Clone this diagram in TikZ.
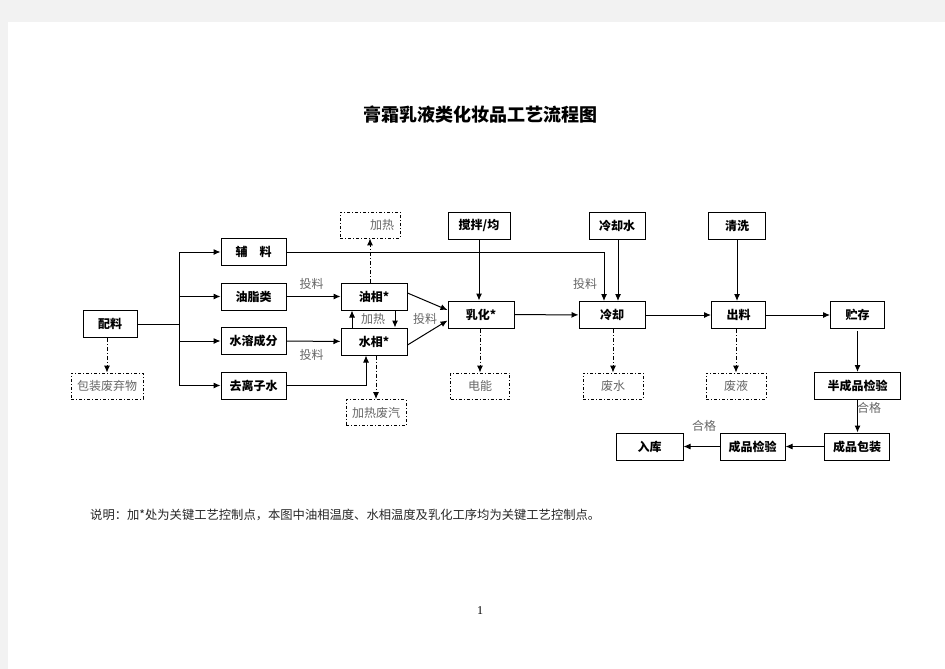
\documentclass[tikz,border=0pt]{standalone}
\usepackage{fontspec}
\setmainfont{Liberation Serif}
\newfontfamily\cjk{Noto Sans CJK SC}
\usetikzlibrary{arrows.meta}

\begin{document}
\begin{tikzpicture}[x=1pt,y=-1pt,
  box/.style={draw=black, line width=1pt, inner sep=0pt, minimum height=27pt, font=\cjk\bfseries\fontsize{12}{12}\selectfont},
  wastebox/.style={draw=black, line width=0.8pt, dash pattern=on 3pt off 2pt on 1pt off 2pt, inner sep=0pt, minimum width=60pt, minimum height=26pt, text=black!60, font=\cjk\fontsize{12}{12}\selectfont},
  lbl/.style={text=black!60, font=\cjk\fontsize{12}{12}\selectfont, inner sep=0pt},
  arr/.style={draw=black, line width=1pt, -{Latex[length=7pt,width=6pt]}},
  dasharr/.style={arr, dash pattern=on 4pt off 2pt on 1pt off 2pt}]
\fill[black!5] (0,0) rectangle (945,669);
\fill[white] (8,22) rectangle (945,669);
\useasboundingbox (0,0) rectangle (945,669);

\node[font=\cjk\bfseries\fontsize{18}{18}\selectfont] (title) at (480.5,115) {膏霜乳液类化妆品工艺流程图};

\node[box, minimum width=54pt] (peiliao) at (110,324) {配料};
\node[wastebox, minimum width=72pt] (waste) at (107,386) {包装废弃物};
\node[box, minimum width=65pt] (fuliao) at (253.5,252) {辅\hspace{1em}料};
\node[box, minimum width=65pt] (youzhi) at (253.5,296.5) {油脂类};
\node[box, minimum width=65pt] (shuirong) at (253.5,341) {水溶成分};
\node[box, minimum width=65pt] (qulizi) at (253.5,385.5) {去离子水};
\node[wastebox] (jiare) at (370,225) {\hspace{24pt}加热};
\node[box, minimum width=66pt] (youxiang) at (374,296.5) {油相*};
\node[box, minimum width=66pt] (shuixiang) at (374,341.5) {水相*};
\node[wastebox] (feiqi) at (376,412.5) {加热废汽};
\node[box, minimum width=62pt] (jiaoban) at (479,225.5) {搅拌/均};
\node[box, minimum width=66pt] (ruhua) at (481,314.5) {乳化*};
\node[wastebox, minimum width=59pt] (dianneng) at (480,386) {电能};
\node[box, minimum width=56pt] (lengqueshui) at (617,225.5) {冷却水};
\node[box, minimum width=66pt] (lengque) at (612,315) {冷却};
\node[wastebox] (feishui) at (613,386) {废水};
\node[box, minimum width=57pt] (qingxi) at (737,225.5) {清洗};
\node[box, minimum width=54pt] (chuliao) at (738.5,315) {出料};
\node[wastebox] (feiye) at (736,386) {废液};
\node[box, minimum width=54pt] (zhucun) at (857.5,315) {贮存};
\node[box, minimum width=86pt] (banchengpin) at (857.5,386) {半成品检验};
\node[box, minimum width=65pt] (baozhuang) at (857,446.5) {成品包装};
\node[box, minimum width=65pt] (jianyan) at (752.5,446.5) {成品检验};
\node[box, minimum width=67pt] (ruku) at (649.5,446.5) {入库};

\coordinate (fork) at (179,324);
\draw[black, line width=1pt] (peiliao.east) -- (fork);
\draw[arr] (fork) |- (fuliao);
\draw[arr] (fork) |- (youzhi);
\draw[arr] (fork) |- (shuirong);
\draw[arr] (fork) |- (qulizi);
\draw[dasharr] (peiliao.south -| waste.north) -- (waste.north);

\draw[arr] (youzhi) -- (youxiang);
\draw[arr] (shuirong) -- (shuixiang);
\draw[arr] (qulizi.east) -| ([xshift=-8pt]shuixiang.south);
\draw[arr] (fuliao.east) -| ([xshift=-8pt]lengque.north);
\draw[dasharr] (youxiang.north -| jiare.south) -- (jiare.south);
\draw[arr] ([xshift=-22pt]shuixiang.north) -- ([xshift=-22pt]youxiang.south);
\draw[arr] ([xshift=21pt]youxiang.south) -- ([xshift=21pt]shuixiang.north);
\draw[dasharr] (shuixiang.south -| feiqi.north) -- (feiqi.north);
\draw[arr] ([yshift=3.5pt]youxiang.east) -- ([yshift=4.5pt]ruhua.west);
\draw[arr] ([yshift=-3.5pt]shuixiang.east) -- ([yshift=-6pt]ruhua.west);

\draw[arr] (jiaoban.south) -- (jiaoban.south |- ruhua.north);
\draw[dasharr] (ruhua.south -| dianneng.north) -- (dianneng.north);
\draw[arr] (ruhua) -- (lengque);
\draw[arr] ([xshift=1pt]lengqueshui.south) -- ([xshift=1pt]lengqueshui.south |- lengque.north);
\draw[dasharr] (lengque.south -| feishui.north) -- (feishui.north);
\draw[arr] (lengque) -- (chuliao);
\draw[arr] (qingxi.south) -- (qingxi.south |- chuliao.north);
\draw[dasharr] (chuliao.south -| feiye.north) -- (feiye.north);
\draw[arr] (chuliao) -- (zhucun);
\draw[arr] ([yshift=-2pt]zhucun.south) -- (banchengpin.north);
\draw[arr] (banchengpin) -- (banchengpin |- baozhuang.north);
\draw[arr] (baozhuang) -- (jianyan);
\draw[arr] (jianyan) -- (ruku);

\node[lbl] (tl1) at (311.5,283.5) {投料};
\node[lbl] (tl2) at (311.5,355) {投料};
\node[lbl] (tl3) at (425,318.5) {投料};
\node[lbl] (tl4) at (585,283.5) {投料};
\node[lbl] (jr) at (373,318.5) {加热};
\node[lbl] (hg1) at (869,408) {合格};
\node[lbl] (hg2) at (704,425.5) {合格};

\node[anchor=west, inner sep=0pt, text=black!85, font=\cjk\fontsize{12.3}{13}\selectfont] (note) at (90,515) {说明：加*处为关键工艺控制点，本图中油相温度、水相温度及乳化工序均为关键工艺控制点。};
\node[font=\fontsize{12}{12}\selectfont] (page) at (480,611) {1};
\end{tikzpicture}
\end{document}
